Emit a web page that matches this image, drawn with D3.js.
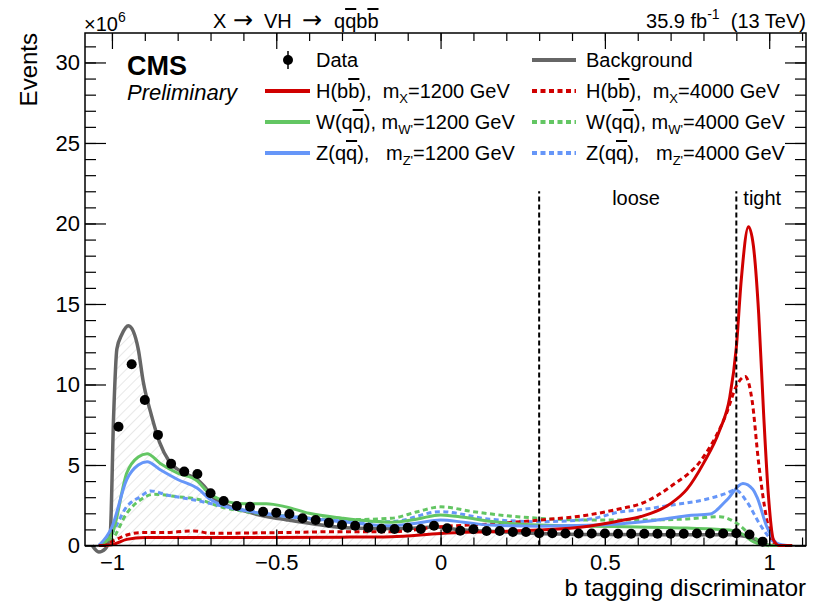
<!DOCTYPE html>
<html><head><meta charset="utf-8">
<script src="https://cdn.jsdelivr.net/npm/d3@7"></script>
<style>
body{margin:0;background:#fff}
svg{font-family:"Liberation Sans",Arial,Helvetica,sans-serif}
text{white-space:pre}
</style>
</head><body><svg id="c" width="825" height="603"></svg>
<script>
// ---------- data ----------
const dataX = [-0.98,-0.94,-0.90,-0.86,-0.82,-0.78,-0.74,-0.70,-0.66,-0.62,-0.58,-0.54,-0.50,-0.46,-0.42,-0.38,-0.34,-0.30,-0.26,-0.22,-0.18,-0.14,-0.10,-0.06,-0.02,0.02,0.06,0.10,0.14,0.18,0.22,0.26,0.30,0.34,0.38,0.42,0.46,0.50,0.54,0.58,0.62,0.66,0.70,0.74,0.78,0.82,0.86,0.90,0.94,0.98];
const dataY = [7.38,11.26,9.04,6.87,5.07,4.59,4.44,3.24,2.76,2.45,2.41,2.10,2.04,1.96,1.69,1.58,1.42,1.27,1.23,1.11,1.04,1.03,1.11,1.03,1.23,1.07,0.92,1.01,0.90,0.90,0.84,0.84,0.76,0.76,0.74,0.74,0.74,0.74,0.73,0.73,0.73,0.73,0.73,0.73,0.74,0.75,0.75,0.76,0.68,0.24];

const background = [[-1.06,0],[-1.04,-0.4],[-1.02,-0.2],[-1.005,0.8],[-0.995,8],[-0.985,12.2],[-0.97,13.1],[-0.95,13.65],[-0.935,13.3],[-0.92,12.2],[-0.905,10.2],[-0.88,8.1],[-0.855,6.4],[-0.825,5.2],[-0.78,4.5],[-0.74,4.1],[-0.72,3.7],[-0.69,2.95],[-0.65,2.5],[-0.59,2.1],[-0.53,1.8],[-0.47,1.6],[-0.39,1.35],[-0.29,1.1],[-0.2,1.05],[-0.1,1.05],[-0.02,1.15],[0.05,1.0],[0.15,0.88],[0.3,0.75],[0.5,0.68],[0.7,0.66],[0.88,0.66],[0.93,0.55],[0.96,0.35],[0.99,0.05],[1.0,0]];

const hbb1200 = [[-1.04,0],[-1.0,0.05],[-0.955,0.38],[-0.9,0.5],[-0.6,0.5],[-0.3,0.52],[-0.15,0.55],[0.0,0.75],[0.15,0.86],[0.3,0.96],[0.45,1.2],[0.55,1.55],[0.61,1.8],[0.7,2.6],[0.75,3.5],[0.8,5.1],[0.85,7.2],[0.88,9.2],[0.9,12.3],[0.915,16.5],[0.937,19.8],[0.952,18.6],[0.968,14.4],[0.983,8.2],[0.998,3.0],[1.013,0.35],[1.03,0],[1.07,0]];
const hbb4000 = [[-1.03,0],[-1.0,0.24],[-0.955,0.65],[-0.914,0.8],[-0.85,0.8],[-0.75,0.9],[-0.7,0.76],[-0.5,0.8],[-0.3,0.86],[-0.15,0.86],[0.0,1.17],[0.15,1.34],[0.3,1.58],[0.45,1.9],[0.55,2.3],[0.61,2.6],[0.7,3.66],[0.8,5.5],[0.87,8.2],[0.9,9.9],[0.927,10.5],[0.948,9.0],[0.968,5.1],[0.993,1.58],[1.013,0.14],[1.03,0]];
const wqq1200 = [[-1.04,0],[-1.0,0.7],[-0.955,4.5],[-0.92,5.5],[-0.893,5.7],[-0.853,5.1],[-0.8,4.5],[-0.74,4.0],[-0.71,3.35],[-0.67,2.85],[-0.6,2.6],[-0.53,2.6],[-0.47,2.4],[-0.4,2.0],[-0.3,1.7],[-0.15,1.45],[-0.07,1.65],[0.0,1.9],[0.07,1.75],[0.15,1.5],[0.3,1.27],[0.45,1.2],[0.6,1.15],[0.75,1.08],[0.88,0.96],[0.92,0.7],[0.95,0.25],[0.98,0.05],[1.02,0],[1.07,0]];
const wqq4000 = [[-1.03,0],[-1.0,0.34],[-0.955,2.0],[-0.914,2.83],[-0.873,3.18],[-0.8,3.03],[-0.73,2.83],[-0.67,2.41],[-0.59,2.1],[-0.45,1.79],[-0.3,1.6],[-0.15,1.69],[-0.07,2.1],[0.0,2.4],[0.1,2.1],[0.2,1.85],[0.3,1.69],[0.45,1.58],[0.6,1.58],[0.75,1.65],[0.85,1.79],[0.9,1.4],[0.95,0.55],[1.0,0.03],[1.02,0]];
const zqq1200 = [[-1.04,0],[-1.0,1.15],[-0.955,4.1],[-0.92,5.0],[-0.893,5.2],[-0.853,4.7],[-0.8,4.1],[-0.74,3.55],[-0.7,2.85],[-0.65,2.4],[-0.59,2.15],[-0.51,1.9],[-0.43,1.75],[-0.3,1.48],[-0.15,1.22],[-0.07,1.4],[0.0,1.58],[0.07,1.45],[0.15,1.27],[0.3,1.2],[0.45,1.25],[0.55,1.35],[0.65,1.55],[0.75,1.85],[0.82,1.95],[0.87,2.8],[0.92,3.85],[0.95,3.5],[0.963,3.0],[0.993,1.15],[1.024,0.14],[1.054,0]];
const zqq4000 = [[-1.04,0],[-1.0,0.76],[-0.955,2.41],[-0.914,3.03],[-0.883,3.39],[-0.833,3.14],[-0.75,2.83],[-0.68,2.52],[-0.6,2.21],[-0.5,1.9],[-0.35,1.58],[-0.15,1.48],[0.0,2.1],[0.15,1.63],[0.3,1.48],[0.45,1.63],[0.55,2.1],[0.6,2.2],[0.7,2.5],[0.8,2.83],[0.87,3.24],[0.897,3.45],[0.932,2.72],[0.973,1.27],[1.013,0.24],[1.04,0]];

const xMajorTicks = [-1, -0.5, 0, 0.5, 1];
const xTickLabels = ["\u22121", "\u22120.5", "0", "0.5", "1"];
const xMinorTicks = [-1.0,-0.9,-0.8,-0.7,-0.6,-0.5,-0.4,-0.3,-0.2,-0.1,0,0.1,0.2,0.3,0.4,0.5,0.6,0.7,0.8,0.9,1.0,1.1];
const yMajorTicks = [0, 5, 10, 15, 20, 25, 30];
const yMinorTicks = [0,1,2,3,4,5,6,7,8,9,10,11,12,13,14,15,16,17,18,19,20,21,22,23,24,25,26,27,28,29,30,31];
const cuts = [{x: 0.3, label: "loose"}, {x: 0.9, label: "tight"}];

// ---------- styles ----------
const RED = "#d00000", GREEN = "#63c663", BLUE = "#6696f8", GRAY = "#666666";

// ---------- layout ----------
const L = 85, R = 806, T = 33, B = 545.5;
const svg = d3.select("#c");
const x = d3.scaleLinear().domain([-1.082, 1.112]).range([L, R]);
const y = d3.scaleLinear().domain([0, 31.83]).range([B, T]);

// hatch pattern
const defs = svg.append("defs");
const pat = defs.append("pattern").attr("id", "hatch").attr("patternUnits", "userSpaceOnUse")
  .attr("width", 7).attr("height", 7).attr("patternTransform", "rotate(45)");
pat.append("line").attr("x1", 0).attr("y1", 0).attr("x2", 0).attr("y2", 7)
  .attr("stroke", "#d4d4d4").attr("stroke-width", 1.1);

const line = d3.line().x(d => x(d[0])).y(d => y(d[1])).curve(d3.curveMonotoneX);
const area = d3.area().x(d => x(d[0])).y0(y(0)).y1(d => y(d[1])).curve(d3.curveMonotoneX);

// background hatched + line
svg.append("path").attr("d", area(background)).attr("fill", "url(#hatch)");
svg.append("path").attr("d", line(background)).attr("fill", "none").attr("stroke", GRAY).attr("stroke-width", 3.5);

// signals
const sigs = [
  {d: wqq4000, c: GREEN, dash: true},
  {d: zqq4000, c: BLUE, dash: true},
  {d: hbb4000, c: RED, dash: true},
  {d: wqq1200, c: GREEN, dash: false},
  {d: zqq1200, c: BLUE, dash: false},
  {d: hbb1200, c: RED, dash: false},
];
sigs.forEach(s => {
  svg.append("path").attr("d", line(s.d)).attr("fill", "none")
    .attr("stroke", s.c).attr("stroke-width", 3)
    .attr("stroke-dasharray", s.dash ? "5,3.5" : null);
});

// data points
svg.append("g").selectAll("circle").data(dataX.map((v, i) => [v, dataY[i]])).join("circle")
  .attr("cx", d => x(d[0])).attr("cy", d => y(d[1])).attr("r", 5).attr("fill", "#000");

// cut lines
cuts.forEach(c => {
  svg.append("line").attr("x1", x(c.x)).attr("x2", x(c.x)).attr("y1", y(0)).attr("y2", y(22))
    .attr("stroke", "#000").attr("stroke-width", 2).attr("stroke-dasharray", "5,3");
});
svg.append("text").attr("x", x(0.3) + 73).attr("y", 205).attr("font-size", 20).text("loose");
svg.append("text").attr("x", x(0.9) + 7).attr("y", 205).attr("font-size", 20).text("tight");

// ---------- axes ----------
function ax(gen, tr, vals, size, pad, fmt) {
  const g = svg.append("g").attr("transform", tr)
    .call(gen.tickValues(vals).tickSize(size).tickPadding(pad).tickFormat(fmt));
  g.select(".domain").remove();
  g.selectAll(".tick line").attr("stroke", "#000").attr("stroke-width", 1.2);
  g.selectAll("text").attr("font-size", 22).attr("fill", "#000").attr("font-family", "Liberation Sans, Arial, sans-serif");
  return g;
}
const none = () => "";
ax(d3.axisBottom(x), `translate(0,${B})`, xMinorTicks, -8, 0, none);
ax(d3.axisBottom(x), `translate(0,${B})`, xMajorTicks, -16, 9, (d, i) => xTickLabels[i]);
ax(d3.axisTop(x), `translate(0,${T})`, xMinorTicks, -8, 0, none);
ax(d3.axisTop(x), `translate(0,${T})`, xMajorTicks, -16, 0, none);
ax(d3.axisLeft(y), `translate(${L},0)`, yMinorTicks, -11, 0, none);
ax(d3.axisLeft(y), `translate(${L},0)`, yMajorTicks, -21, 5, d => d);
ax(d3.axisRight(y), `translate(${R},0)`, yMinorTicks, -11, 0, none);
ax(d3.axisRight(y), `translate(${R},0)`, yMajorTicks, -21, 0, none);

svg.append("rect").attr("x", L).attr("y", T).attr("width", R - L).attr("height", B - T)
  .attr("fill", "none").attr("stroke", "#000").attr("stroke-width", 1.5);

// ---------- texts ----------
svg.append("text").attr("x", R).attr("y", 596).attr("text-anchor", "end").attr("font-size", 24).text("b tagging discriminator");
svg.append("text").attr("transform", "translate(37,33) rotate(-90)").attr("text-anchor", "end").attr("font-size", 24).text("Events");

const t1 = svg.append("text").attr("x", 84).attr("y", 31).attr("font-size", 20);
t1.append("tspan").text("\u00d710");
t1.append("tspan").attr("font-size", 14).attr("dy", -9).text("6");

const ARW = "DejaVu Sans";
const t2 = svg.append("text").attr("y", 28).attr("font-size", 20);
t2.append("tspan").attr("x", 213).text("X");
t2.append("tspan").attr("x", 233).attr("font-family", ARW).attr("font-size", 24).text("\u2192");
t2.append("tspan").attr("x", 264).text("VH");
t2.append("tspan").attr("x", 302).attr("font-family", ARW).attr("font-size", 24).text("\u2192");
t2.append("tspan").attr("x", 334).text("q");
t2.append("tspan").style("text-decoration", "overline").text("q");
t2.append("tspan").text("b");
t2.append("tspan").style("text-decoration", "overline").text("b");

const t3 = svg.append("text").attr("x", R).attr("y", 28).attr("font-size", 20).attr("text-anchor", "end");
t3.append("tspan").text("35.9 fb");
t3.append("tspan").attr("font-size", 14).attr("dy", -9).text("-1");
t3.append("tspan").attr("dy", 9).text("  (13 TeV)");

svg.append("text").attr("x", 127).attr("y", 75).attr("font-size", 27).attr("font-weight", "bold").text("CMS");
svg.append("text").attr("x", 127).attr("y", 100).attr("font-size", 22).attr("font-style", "italic").text("Preliminary");

// ---------- legend ----------
const rowsY = [60, 91, 122, 153];
const colLine = [[265, 310], [532, 576]];
const colText = [316, 586];

// Data entry
svg.append("line").attr("x1", 288).attr("x2", 288).attr("y1", rowsY[0] - 9).attr("y2", rowsY[0] + 9).attr("stroke", "#000").attr("stroke-width", 1.5);
svg.append("circle").attr("cx", 288).attr("cy", rowsY[0]).attr("r", 5).attr("fill", "#000");
svg.append("text").attr("x", colText[0]).attr("y", rowsY[0] + 7).attr("font-size", 20).text("Data");
// Background entry
svg.append("line").attr("x1", colLine[1][0]).attr("x2", colLine[1][1]).attr("y1", rowsY[0]).attr("y2", rowsY[0]).attr("stroke", GRAY).attr("stroke-width", 4);
svg.append("text").attr("x", colText[1]).attr("y", rowsY[0] + 7).attr("font-size", 20).text("Background");

const legSig = [
  {row: 1, col: 0, c: RED, dash: false, p: "H(b", ov: "b", q: "),  m", sub: "X", mass: "=1200 GeV"},
  {row: 2, col: 0, c: GREEN, dash: false, p: "W(q", ov: "q", q: "), m", sub: "W'", mass: "=1200 GeV"},
  {row: 3, col: 0, c: BLUE, dash: false, p: "Z(q", ov: "q", q: "),   m", sub: "Z'", mass: "=1200 GeV"},
  {row: 1, col: 1, c: RED, dash: true, p: "H(b", ov: "b", q: "),  m", sub: "X", mass: "=4000 GeV"},
  {row: 2, col: 1, c: GREEN, dash: true, p: "W(q", ov: "q", q: "), m", sub: "W'", mass: "=4000 GeV"},
  {row: 3, col: 1, c: BLUE, dash: true, p: "Z(q", ov: "q", q: "),   m", sub: "Z'", mass: "=4000 GeV"},
];
legSig.forEach(e => {
  const yy = rowsY[e.row];
  svg.append("line").attr("x1", colLine[e.col][0]).attr("x2", colLine[e.col][1]).attr("y1", yy).attr("y2", yy)
    .attr("stroke", e.c).attr("stroke-width", 4).attr("stroke-dasharray", e.dash ? "5,3.5" : null);
  const t = svg.append("text").attr("x", colText[e.col]).attr("y", yy + 7).attr("font-size", 20);
  t.append("tspan").text(e.p);
  t.append("tspan").style("text-decoration", "overline").text(e.ov);
  t.append("tspan").text(e.q);
  t.append("tspan").attr("font-size", 13).attr("dy", 5).text(e.sub);
  t.append("tspan").attr("dy", -5).text(e.mass);
});
</script>
</body></html>
